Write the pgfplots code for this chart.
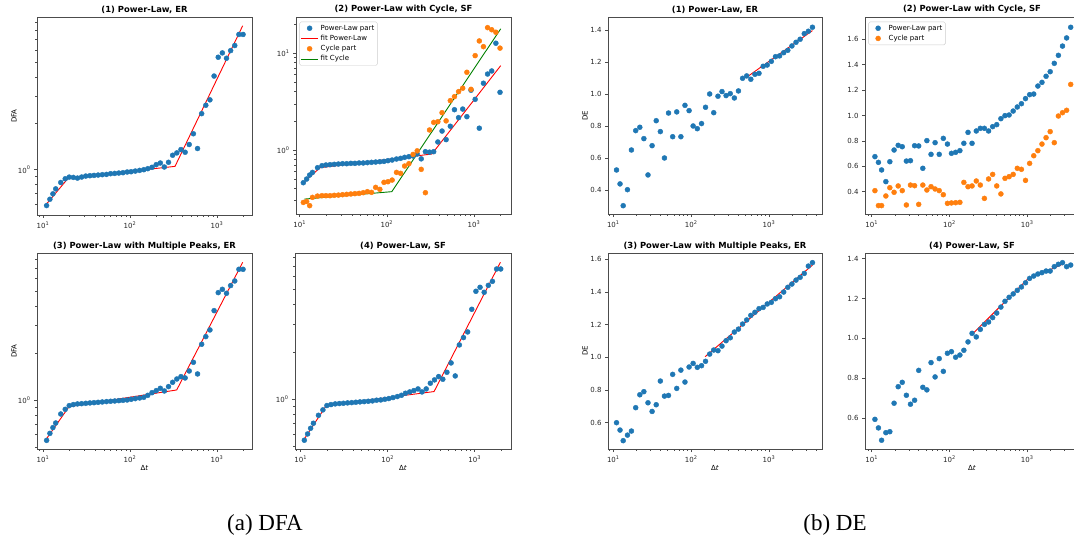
\documentclass[border=0pt]{standalone}
\usepackage{fontspec}
\setmainfont{DejaVu Sans}
\newfontfamily\capfont{Liberation Serif}
\usepackage{pgfplots}
\pgfplotsset{compat=1.18}
\definecolor{cA}{HTML}{1F77B4}
\definecolor{cB}{HTML}{FF7F0E}
\definecolor{cG}{HTML}{008000}
\definecolor{cR}{HTML}{FF0000}
\newcommand{\tfont}{\fontsize{7}{8.4}\selectfont}
\pgfplotsset{
  panelstyle/.style={scale only axis, clip=true,
    axis line style={black!70,line width=0.8pt},
    tick style={black!70,line width=0.6pt},
    tick align=outside, xtick pos=bottom, ytick pos=left,
    major tick length=3pt, minor tick length=1.8pt,
    tick label style={font=\tfont, text=black!85},
    every axis title/.style={at={(0.5,1)}, anchor=south, inner sep=0pt, yshift=3pt, font=\fontsize{8.4}{10}\selectfont\bfseries},
    every axis y label/.style={at={(axis description cs:-0.107,0.5)}, rotate=90, anchor=center, font=\tfont},
    every axis x label/.style={at={(axis description cs:0.5,-0.097)}, anchor=center, font=\tfont},
    legend style={font=\tfont, draw=black!20, rounded corners=1.5pt, fill=white, at={(0.016,0.976)}, anchor=north west, inner sep=1pt, row sep=-0.5pt},
    legend cell align=left,
    xtick={10,100,1000}, xticklabels={10\textsuperscript{1},10\textsuperscript{2},10\textsuperscript{3}},
    minor xtick={9,20,30,40,50,60,70,80,90,200,300,400,500,600,700,800,900,2000,3000,4000}
  },
  mydot/.style={only marks, mark=*, mark size=2.5pt, color=#1},
  widedot/.style={only marks, mark=*, mark size=2.5pt, color=#1,
    legend image code/.code={\path[draw=none,fill=none] (0pt,-1pt) rectangle (17pt,1pt);\draw[##1] plot coordinates {(8.5pt,0pt)};}},
  myfit/.style={no marks, color=#1, line width=0.9pt},
}
\begin{document}
\begin{tikzpicture}
\useasboundingbox (0pt,0pt) rectangle (1074pt,547pt);
\clip (0pt,0pt) rectangle (1074pt,547pt);

% ---------- (1) DFA ----------
\begin{axis}[xmode=log, ymode=log, panelstyle, at={(37pt,332pt)}, anchor=south west, width=215pt, height=198pt,
  xmin=8.53, xmax=2523, ymin=0.508, ymax=9.8,
  ytick={1}, yticklabels={10\textsuperscript{0}}, minor ytick={0.6,0.7,0.8,0.9,2,3,4,5,6,7,8,9},
  title={(1) Power-Law, ER}, ylabel={DFA}]
\addplot[mydot=cA] coordinates {(11,0.585)(12,0.643)(13,0.697)(14,0.751)(16,0.826)(18,0.873)(20,0.895)(22.3,0.891)(24.9,0.882)(27.8,0.896)(31.0,0.909)(34.6,0.914)(38.6,0.918)(43.0,0.923)(48.0,0.928)(53.6,0.932)(59.8,0.942)(66.7,0.946)(74.4,0.951)(83.1,0.956)(92.7,0.966)(103,0.970)(115,0.980)(129,0.990)(144,1.000)(160,1.015)(179,1.036)(200,1.078)(223,1.105)(248,1.041)(277,1.117)(309,1.241)(345,1.285)(385,1.351)(430,1.298)(479,1.457)(535,1.711)(597,1.372)(666,2.311)(743,2.62)(829,2.84)(925,4.054)(1032,5.37)(1151,5.73)(1285,5.29)(1433,5.93)(1599,6.40)(1784,7.55)(1991,7.55)};
\addplot[myfit=cR] coordinates {(11,0.600)(19.5,0.882)(329,1.051)(1972,8.60)};
\end{axis}

% ---------- (2) DFA ----------
\begin{axis}[xmode=log, ymode=log, panelstyle, at={(296pt,333pt)}, anchor=south west, width=215pt, height=197pt,
  xmin=9.06, xmax=2661, ymin=0.218, ymax=23.7,
  ytick={1,10}, yticklabels={10\textsuperscript{0},10\textsuperscript{1}}, minor ytick={0.3,0.4,0.5,0.6,0.7,0.8,0.9,2,3,4,5,6,7,8,9,20},
  title={(2) Power-Law with Cycle, SF}]
\addplot[mydot=cA] coordinates {(11,0.459)(12,0.501)(13,0.551)(14,0.587)(16,0.656)(18,0.688)(20,0.700)(22.3,0.705)(24.9,0.711)(27.8,0.716)(31.0,0.722)(34.6,0.722)(38.6,0.728)(43.0,0.728)(48.0,0.734)(53.6,0.734)(59.8,0.740)(66.7,0.746)(74.4,0.751)(83.1,0.757)(92.7,0.763)(103,0.776)(115,0.788)(129,0.807)(144,0.820)(160,0.840)(179,0.853)(200,0.867)(223,0.909)(248,0.81)(277,0.961)(309,0.95)(345,0.961)(385,1.21)(430,1.57)(479,1.28)(535,1.76)(597,2.61)(666,2.16)(743,2.65)(829,2.21)(925,4.15)(1032,3.34)(1151,1.68)(1285,4.9)(1433,6.1)(1599,6.56)(1784,12.7)(1991,3.95)};
\addlegendentry{Power-Law part}
\addplot[myfit=cR] coordinates {(11.3,0.470)(17.1,0.656)(329,0.909)(2028,7.45)};
\addlegendentry{fit Power-Law}
\addplot[mydot=cB] coordinates {(11,0.287)(12,0.294)(13,0.266)(14,0.324)(16,0.334)(18,0.337)(20,0.337)(22.3,0.337)(24.9,0.340)(27.8,0.342)(31.0,0.345)(34.6,0.348)(38.6,0.351)(43.0,0.354)(48.0,0.356)(53.6,0.362)(59.8,0.371)(66.7,0.365)(74.4,0.411)(83.1,0.392)(92.7,0.463)(103,0.470)(115,0.489)(129,0.587)(144,0.574)(160,0.683)(179,0.722)(200,0.90)(223,0.98)(248,0.631)(277,0.362)(309,1.61)(345,1.93)(385,1.96)(430,2.43)(479,2.0)(535,3.24)(597,3.56)(666,4.01)(743,4.35)(829,6.36)(925,4.24)(1032,9.45)(1151,13.4)(1285,11.7)(1433,18.4)(1599,17.5)(1784,16.5)(1991,11.3)};
\addlegendentry{Cycle part}
\addplot[myfit=cG] coordinates {(11.3,0.311)(114,0.371)(2028,17.9)};
\addlegendentry{fit Cycle}
\end{axis}

% ---------- (3) DFA ----------
\begin{axis}[xmode=log, ymode=log, panelstyle, at={(37pt,98pt)}, anchor=south west, width=215pt, height=196pt,
  xmin=8.53, xmax=2523, ymin=0.485, ymax=8.75,
  ytick={1}, yticklabels={10\textsuperscript{0}}, minor ytick={0.5,0.6,0.7,0.8,0.9,2,3,4,5,6,7,8},
  title={(3) Power-Law with Multiple Peaks, ER}, ylabel={DFA}, xlabel={Δ\textit{t}}]
\addplot[mydot=cA] coordinates {(11,0.551)(12,0.611)(13,0.665)(14,0.712)(16,0.813)(18,0.871)(20,0.920)(22.3,0.934)(24.9,0.943)(27.8,0.947)(31.0,0.952)(34.6,0.957)(38.6,0.961)(43.0,0.966)(48.0,0.971)(53.6,0.976)(59.8,0.981)(66.7,0.985)(74.4,0.990)(83.1,0.995)(92.7,1.000)(103,1.010)(115,1.020)(129,1.030)(144,1.040)(160,1.071)(179,1.114)(200,1.148)(223,1.188)(248,1.142)(277,1.218)(309,1.298)(345,1.363)(385,1.411)(430,1.384)(479,1.534)(535,1.744)(597,1.468)(666,2.275)(743,2.547)(829,2.81)(925,3.738)(1032,4.876)(1151,5.12)(1285,4.83)(1433,5.41)(1599,5.79)(1784,6.88)(1991,6.88)};
\addplot[myfit=cR] coordinates {(11,0.565)(19.9,0.906)(344,1.159)(1972,7.63)};
\end{axis}

% ---------- (4) DFA ----------
\begin{axis}[xmode=log, ymode=log, panelstyle, at={(295pt,98pt)}, anchor=south west, width=216pt, height=196pt,
  xmin=8.6, xmax=2612, ymin=0.483, ymax=8.49,
  ytick={1}, yticklabels={10\textsuperscript{0}}, minor ytick={0.5,0.6,0.7,0.8,0.9,2,3,4,5,6,7,8},
  title={(4) Power-Law, SF}, xlabel={Δ\textit{t}}]
\addplot[mydot=cA] coordinates {(11,0.549)(12,0.602)(13,0.654)(14,0.704)(16,0.791)(18,0.856)(20,0.912)(22.3,0.925)(24.9,0.934)(27.8,0.939)(31.0,0.943)(34.6,0.948)(38.6,0.952)(43.0,0.957)(48.0,0.962)(53.6,0.966)(59.8,0.971)(66.7,0.976)(74.4,0.986)(83.1,0.990)(92.7,1.000)(103,1.010)(115,1.025)(129,1.040)(144,1.060)(160,1.092)(179,1.113)(200,1.135)(223,1.163)(248,1.113)(277,1.163)(309,1.264)(345,1.327)(385,1.393)(430,1.34)(479,1.484)(535,1.701)(597,1.406)(666,2.213)(743,2.464)(829,2.676)(925,3.728)(1032,4.85)(1151,5.14)(1285,4.78)(1433,5.29)(1599,5.61)(1784,6.72)(1991,6.72)};
\addplot[myfit=cR] coordinates {(11,0.56)(19.7,0.912)(341,1.119)(1972,7.41)};
\end{axis}

% ---------- (1) DE ----------
\begin{axis}[xmode=log, panelstyle, at={(608pt,333pt)}, anchor=south west, width=214pt, height=197pt,
  xmin=8.55, xmax=4797, ymin=0.252, ymax=1.483,
  ytick={0.4,0.6,0.8,1.0,1.2,1.4}, yticklabels={0.4,0.6,0.8,1.0,1.2,1.4},
  title={(1) Power-Law, ER}, ylabel={DE}]
\addplot[mydot=cA] coordinates {(11,0.527)(12.2,0.440)(13.4,0.304)(15.2,0.404)(17.1,0.652)(19.4,0.773)(21.9,0.794)(24.7,0.723)(27.9,0.496)(31.5,0.679)(35.6,0.835)(40.2,0.767)(45.4,0.602)(51.2,0.883)(57.9,0.735)(65.3,0.890)(73.8,0.735)(83.3,0.931)(94.1,0.898)(106,0.802)(120,0.785)(136,0.817)(153,0.919)(173,1.002)(195,0.885)(221,0.988)(249,1.017)(281,0.992)(318,1.004)(359,0.977)(405,1.021)(458,1.100)(517,1.115)(584,1.094)(659,1.125)(744,1.131)(841,1.175)(949,1.183)(1072,1.206)(1211,1.235)(1368,1.240)(1545,1.260)(1744,1.275)(1970,1.302)(2224,1.325)(2512,1.344)(2837,1.379)(3204,1.394)(3617,1.419)};
\addplot[myfit=cR] coordinates {(507,1.104)(3617,1.398)};
\end{axis}

% ---------- (2) DE ----------
\begin{axis}[xmode=log, panelstyle, at={(865pt,333pt)}, anchor=south west, width=214pt, height=197pt,
  xmin=8.2, xmax=4624, ymin=0.224, ymax=1.776,
  ytick={0.4,0.6,0.8,1.0,1.2,1.4,1.6}, yticklabels={0.4,0.6,0.8,1.0,1.2,1.4,1.6},
  title={(2) Power-Law with Cycle, SF}]
\addplot[widedot=cA] coordinates {(11,0.676)(12.2,0.631)(13.4,0.571)(15.2,0.479)(17.1,0.636)(19.4,0.728)(21.9,0.765)(24.7,0.754)(27.9,0.641)(31.5,0.644)(35.6,0.762)(40.2,0.760)(45.4,0.584)(51.2,0.802)(57.9,0.694)(65.3,0.786)(73.8,0.694)(83.3,0.820)(94.1,0.775)(106,0.702)(120,0.710)(136,0.723)(153,0.781)(173,0.867)(195,0.781)(221,0.878)(249,0.899)(281,0.899)(318,0.878)(359,0.912)(405,0.928)(458,0.975)(517,0.999)(584,1.004)(659,1.035)(744,1.067)(841,1.093)(949,1.133)(1072,1.164)(1211,1.169)(1368,1.232)(1545,1.261)(1744,1.309)(1970,1.345)(2224,1.411)(2512,1.474)(2837,1.547)(3204,1.611)(3617,1.695)};
\addlegendentry{Power-Law part}
\addplot[widedot=cB] coordinates {(11,0.408)(12.2,0.290)(13.4,0.290)(15.2,0.366)(17.1,0.431)(19.4,0.395)(21.9,0.445)(24.7,0.408)(27.9,0.295)(31.5,0.452)(35.6,0.447)(40.2,0.300)(45.4,0.452)(51.2,0.413)(57.9,0.439)(65.3,0.421)(73.8,0.408)(83.3,0.376)(94.1,0.308)(106,0.311)(120,0.313)(136,0.316)(153,0.473)(173,0.439)(195,0.445)(221,0.484)(249,0.452)(281,0.347)(318,0.500)(359,0.536)(405,0.445)(458,0.382)(517,0.505)(584,0.518)(659,0.536)(744,0.584)(841,0.576)(949,0.489)(1072,0.623)(1211,0.683)(1368,0.723)(1545,0.775)(1744,0.825)(1970,0.873)(2224,0.786)(2512,0.996)(2837,1.022)(3204,1.041)(3617,1.245)};
\addlegendentry{Cycle part}
\end{axis}

% ---------- (3) DE ----------
\begin{axis}[xmode=log, panelstyle, at={(608pt,98pt)}, anchor=south west, width=214pt, height=196pt,
  xmin=8.55, xmax=4797, ymin=0.439, ymax=1.639,
  ytick={0.6,0.8,1.0,1.2,1.4,1.6}, yticklabels={0.6,0.8,1.0,1.2,1.4,1.6},
  title={(3) Power-Law with Multiple Peaks, ER}, ylabel={DE}, xlabel={Δ\textit{t}}]
\addplot[mydot=cA] coordinates {(11,0.600)(12.2,0.555)(13.4,0.490)(15.2,0.524)(17.1,0.549)(19.4,0.692)(21.9,0.771)(24.7,0.790)(27.9,0.722)(31.5,0.669)(35.6,0.710)(40.2,0.855)(45.4,0.763)(51.2,0.767)(57.9,0.896)(65.3,0.810)(73.8,0.922)(83.3,0.849)(94.1,0.941)(106,0.963)(120,0.939)(136,0.949)(153,0.976)(173,1.020)(195,1.045)(221,1.041)(249,1.069)(281,1.102)(318,1.120)(359,1.155)(405,1.173)(458,1.204)(517,1.229)(584,1.257)(659,1.276)(744,1.298)(841,1.306)(949,1.327)(1072,1.337)(1211,1.359)(1368,1.371)(1545,1.400)(1744,1.429)(1970,1.449)(2224,1.473)(2512,1.490)(2837,1.514)(3204,1.559)(3617,1.580)};
\addplot[myfit=cR] coordinates {(151,1.004)(3617,1.565)};
\end{axis}

% ---------- (4) DE ----------
\begin{axis}[xmode=log, panelstyle, at={(865pt,98pt)}, anchor=south west, width=214pt, height=196pt,
  xmin=8.2, xmax=4624, ymin=0.444, ymax=1.4286,
  ytick={0.6,0.8,1.0,1.2,1.4}, yticklabels={0.6,0.8,1.0,1.2,1.4},
  title={(4) Power-Law, SF}, xlabel={Δ\textit{t}}]
\addplot[mydot=cA] coordinates {(11,0.593)(12.2,0.550)(13.4,0.488)(15.2,0.526)(17.1,0.531)(19.4,0.674)(21.9,0.757)(24.7,0.779)(27.9,0.714)(31.5,0.669)(35.6,0.689)(40.2,0.839)(45.4,0.754)(51.2,0.741)(57.9,0.878)(65.3,0.806)(73.8,0.898)(83.3,0.834)(94.1,0.925)(106,0.933)(120,0.905)(136,0.916)(153,0.940)(173,0.982)(195,1.025)(221,1.007)(249,1.045)(281,1.070)(318,1.082)(359,1.104)(405,1.127)(458,1.157)(517,1.186)(584,1.206)(659,1.223)(744,1.241)(841,1.258)(949,1.279)(1072,1.301)(1211,1.313)(1368,1.323)(1545,1.330)(1744,1.338)(1970,1.338)(2224,1.360)(2512,1.372)(2837,1.380)(3204,1.360)(3617,1.368)};
\addplot[myfit=cR] coordinates {(202,1.025)(1000,1.296)(2845,1.372)};
\end{axis}

\node[font=\capfont\fontsize{23}{27}\selectfont, anchor=base] at (265pt,17pt) {(a) DFA};
\node[font=\capfont\fontsize{23}{27}\selectfont, anchor=base] at (835pt,17pt) {(b) DE};
\end{tikzpicture}
\end{document}
